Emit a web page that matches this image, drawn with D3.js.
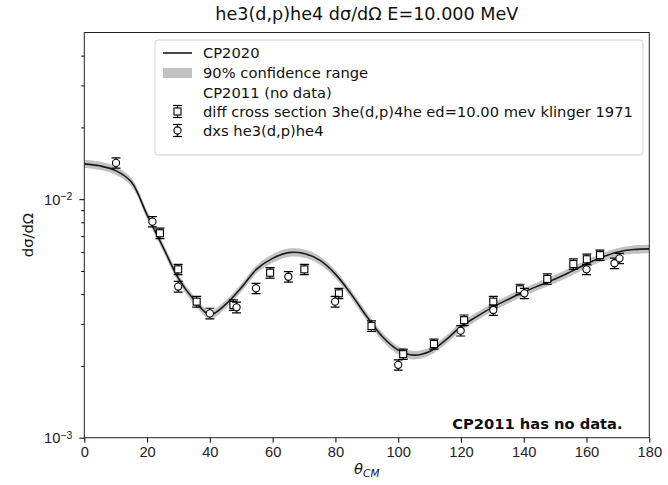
<!DOCTYPE html>
<html>
<head>
<meta charset="utf-8">
<script src="https://cdn.jsdelivr.net/npm/d3@7"></script>
<style>
  body { margin: 0; background: #fff; }
  svg { font-family: "DejaVu Sans", sans-serif; }
</style>
</head>
<body>
<div id="chart"></div>
<script>
// CP2020 curve and its 90% band
const curveAngles = [0,5,10,15,20,25,30,35,40,45,50,55,60,65,70,75,80,85,90,95,100,105,110,115,120,125,130,135,140,145,150,155,160,165,170,175,180];
const curveValues = [0.01406,0.01380,0.01318,0.01180,0.00860,0.00633,0.00466,0.00378,0.00328,0.00362,0.00425,0.00510,0.00565,0.00597,0.00592,0.00555,0.00485,0.00400,0.00322,0.00265,0.00233,0.00222,0.00230,0.00256,0.00292,0.00322,0.00352,0.00380,0.00408,0.00435,0.00463,0.00497,0.00535,0.00572,0.00601,0.00615,0.00619];
const bandUpper = [0.01462,0.01435,0.01371,0.01227,0.00894,0.00658,0.00485,0.00393,0.00341,0.00376,0.00442,0.00530,0.00588,0.00621,0.00616,0.00577,0.00504,0.00416,0.00335,0.00276,0.00242,0.00231,0.00239,0.00266,0.00304,0.00335,0.00366,0.00395,0.00424,0.00452,0.00482,0.00517,0.00556,0.00595,0.00625,0.00640,0.00644];
const bandLower = [0.01350,0.01325,0.01265,0.01133,0.00826,0.00608,0.00447,0.00363,0.00315,0.00348,0.00408,0.00490,0.00542,0.00573,0.00568,0.00533,0.00466,0.00384,0.00309,0.00254,0.00224,0.00213,0.00221,0.00246,0.00280,0.00309,0.00338,0.00365,0.00392,0.00418,0.00444,0.00477,0.00514,0.00549,0.00577,0.00590,0.00594];

// klinger 1971 (squares)
const klingerAngles = [24.1,29.9,35.8,47.5,59.2,70.1,81.1,91.5,101.6,111.4,121.0,130.3,138.8,147.5,155.8,160.1,164.3];
const klingerValues = [0.00720,0.00508,0.00372,0.00360,0.00492,0.00508,0.00403,0.00294,0.00224,0.00247,0.00311,0.00372,0.00419,0.00463,0.00535,0.00560,0.00583];
const klingerErrors = [0.00036,0.00025,0.00019,0.00018,0.00025,0.00025,0.00020,0.00015,0.00011,0.00012,0.00016,0.00019,0.00021,0.00023,0.00027,0.00028,0.00029];

// dxs he3(d,p)he4 (circles)
const dxsAngles = [10.1,21.7,29.9,40.0,48.5,54.7,65.0,79.9,100.0,119.9,130.3,140.2,160.0,168.9,170.5];
const dxsValues = [0.01420,0.00805,0.00430,0.00332,0.00352,0.00423,0.00473,0.00372,0.00202,0.00281,0.00343,0.00403,0.00508,0.00539,0.00565];
const dxsErrors = [0.00071,0.00040,0.00022,0.00017,0.00018,0.00021,0.00024,0.00019,0.00010,0.00014,0.00017,0.00020,0.00025,0.00027,0.00028];

const xTicks = [0,20,40,60,80,100,120,140,160,180];
const yMajor = [1e-3,1e-2];
const yMinor = [2e-3,3e-3,4e-3,5e-3,6e-3,7e-3,8e-3,9e-3,2e-2,3e-2,4e-2];

const legendLabels = ["CP2020","90% confidence range","CP2011 (no data)",
  "diff cross section 3he(d,p)4he ed=10.00 mev klinger 1971","dxs he3(d,p)he4"];

// set the dimensions and margins of the graph
const W = 668, H = 485;
const margin = {top: 32.5, right: 18.7, bottom: 47.3, left: 84.3};
const width = W - margin.left - margin.right,
      height = H - margin.top - margin.bottom;
const fs = "14.7px";

const svg = d3.select("#chart").append("svg")
    .attr("width", W).attr("height", H);
const g = svg.append("g")
    .attr("transform", `translate(${margin.left},${margin.top})`);

const x = d3.scaleLinear().domain([0,180]).range([0,width]);
const y = d3.scaleLog().domain([1e-3,5e-2]).range([height,0]);

g.append("defs").append("clipPath").attr("id","clip")
  .append("rect").attr("width",width).attr("height",height);

const plot = g.append("g").attr("clip-path","url(#clip)");

// band + curve
const curveData = curveAngles.map((a,i) => ({a:a, v:curveValues[i], lo:bandLower[i], hi:bandUpper[i]}));
plot.append("path")
  .datum(curveData)
  .attr("fill","#c2c2c2")
  .attr("d", d3.area().curve(d3.curveCatmullRom)
    .x(d => x(d.a)).y0(d => y(d.lo)).y1(d => y(d.hi)));
plot.append("path")
  .datum(curveData)
  .attr("fill","none").attr("stroke","#1a1a1a").attr("stroke-width",1.6)
  .attr("d", d3.line().curve(d3.curveCatmullRom).x(d => x(d.a)).y(d => y(d.v)));

// error bars and markers
function drawSeries(angles, values, errors, shape) {
  const data = angles.map((a,i) => ({a:a, v:values[i], e:errors[i]}));
  const s = plot.append("g").attr("stroke","#000").attr("stroke-width",1.2);
  s.selectAll(".bar").data(data).join("line")
    .attr("x1", d => x(d.a)).attr("x2", d => x(d.a))
    .attr("y1", d => y(d.v - d.e)).attr("y2", d => y(d.v + d.e));
  s.selectAll(".capt").data(data).join("line")
    .attr("x1", d => x(d.a) - 4.5).attr("x2", d => x(d.a) + 4.5)
    .attr("y1", d => y(d.v + d.e)).attr("y2", d => y(d.v + d.e));
  s.selectAll(".capb").data(data).join("line")
    .attr("x1", d => x(d.a) - 4.5).attr("x2", d => x(d.a) + 4.5)
    .attr("y1", d => y(d.v - d.e)).attr("y2", d => y(d.v - d.e));
  if (shape === "square") {
    s.selectAll(".mk").data(data).join("rect")
      .attr("x", d => x(d.a) - 3.5).attr("y", d => y(d.v) - 3.5)
      .attr("width",7).attr("height",7)
      .attr("fill","#fff").attr("stroke-width",1.1);
  } else {
    s.selectAll(".mk").data(data).join("circle")
      .attr("cx", d => x(d.a)).attr("cy", d => y(d.v)).attr("r",3.6)
      .attr("fill","#fff").attr("stroke-width",1.1);
  }
}
drawSeries(klingerAngles, klingerValues, klingerErrors, "square");
drawSeries(dxsAngles, dxsValues, dxsErrors, "circle");

// axes
const xAxis = g.append("g")
  .attr("transform",`translate(0,${height})`)
  .call(d3.axisBottom(x).tickValues(xTicks).tickSize(5).tickPadding(4).tickFormat(d3.format("d")));
xAxis.select(".domain").remove();
xAxis.selectAll("text").style("font-size",fs).attr("fill","#222");

const yAxis = g.append("g")
  .call(d3.axisLeft(y).tickValues(yMajor).tickSize(5).tickPadding(4).tickFormat(""));
yAxis.select(".domain").remove();
yAxis.selectAll(".tick").each(function(d) {
  const t = d3.select(this).append("text")
    .attr("x",-12).attr("dy","0.35em").attr("text-anchor","end")
    .attr("fill","#222").style("font-size",fs);
  t.append("tspan").text("10");
  t.append("tspan").attr("dy","-0.45em").style("font-size","10.5px")
    .text("\u2212" + Math.round(-Math.log10(d)));
});
g.append("g")
  .call(d3.axisLeft(y).tickValues(yMinor).tickSize(3).tickFormat(""))
  .select(".domain").remove();

g.append("rect").attr("width",width).attr("height",height)
  .attr("fill","none").attr("stroke","#222").attr("stroke-width",1);

// title and labels
svg.append("text").attr("x", margin.left + width/2).attr("y",20)
  .attr("text-anchor","middle").style("font-size","17.6px").attr("fill","#111")
  .text("he3(d,p)he4 d\u03c3/d\u03a9 E=10.000 MeV");

const xl = svg.append("text").attr("x", margin.left + width/2).attr("y",474)
  .attr("text-anchor","middle").style("font-size",fs).attr("fill","#111");
xl.append("tspan").style("font-style","italic").text("\u03b8");
xl.append("tspan").attr("dy","3").style("font-size","10.5px").style("font-style","italic").text("CM");

svg.append("text")
  .attr("transform",`translate(33,${margin.top + height/2}) rotate(-90)`)
  .attr("text-anchor","middle").style("font-size",fs).attr("fill","#111")
  .text("d\u03c3/d\u03a9");

g.append("text").attr("x", x(171.5)).attr("y", height - 9)
  .attr("text-anchor","end").style("font-size",fs).style("font-weight","bold")
  .attr("fill","#111").text("CP2011 has no data.");

// legend
const leg = svg.append("g");
leg.append("rect").attr("x",155).attr("y",40).attr("width",488).attr("height",115)
  .attr("rx",3).attr("fill","#fff").attr("fill-opacity",0.85)
  .attr("stroke","#d0d0d0").attr("stroke-width",1);
const rowY = [53, 73, 92.5, 111.5, 130.5];
leg.selectAll(".lt").data(legendLabels).join("text")
  .attr("x",203).attr("y",(d,i) => rowY[i]).attr("dy","0.35em")
  .style("font-size",fs).attr("fill","#111").text(d => d);
leg.append("line").attr("x1",163).attr("x2",192).attr("y1",rowY[0]).attr("y2",rowY[0])
  .attr("stroke","#1a1a1a").attr("stroke-width",1.6);
leg.append("rect").attr("x",163).attr("y",rowY[1]-5).attr("width",29).attr("height",10)
  .attr("fill","#c2c2c2");
[3,4].forEach(i => {
  const cy = rowY[i], cx = 177.5;
  const m = leg.append("g").attr("stroke","#000").attr("stroke-width",1.2);
  m.append("line").attr("x1",cx).attr("x2",cx).attr("y1",cy-6).attr("y2",cy+6);
  m.append("line").attr("x1",cx-4.5).attr("x2",cx+4.5).attr("y1",cy-6).attr("y2",cy-6);
  m.append("line").attr("x1",cx-4.5).attr("x2",cx+4.5).attr("y1",cy+6).attr("y2",cy+6);
  if (i === 3) m.append("rect").attr("x",cx-3.5).attr("y",cy-3.5).attr("width",7).attr("height",7)
      .attr("fill","#fff").attr("stroke-width",1.1);
  else m.append("circle").attr("cx",cx).attr("cy",cy).attr("r",3.6)
      .attr("fill","#fff").attr("stroke-width",1.1);
});
</script>
</body>
</html>
